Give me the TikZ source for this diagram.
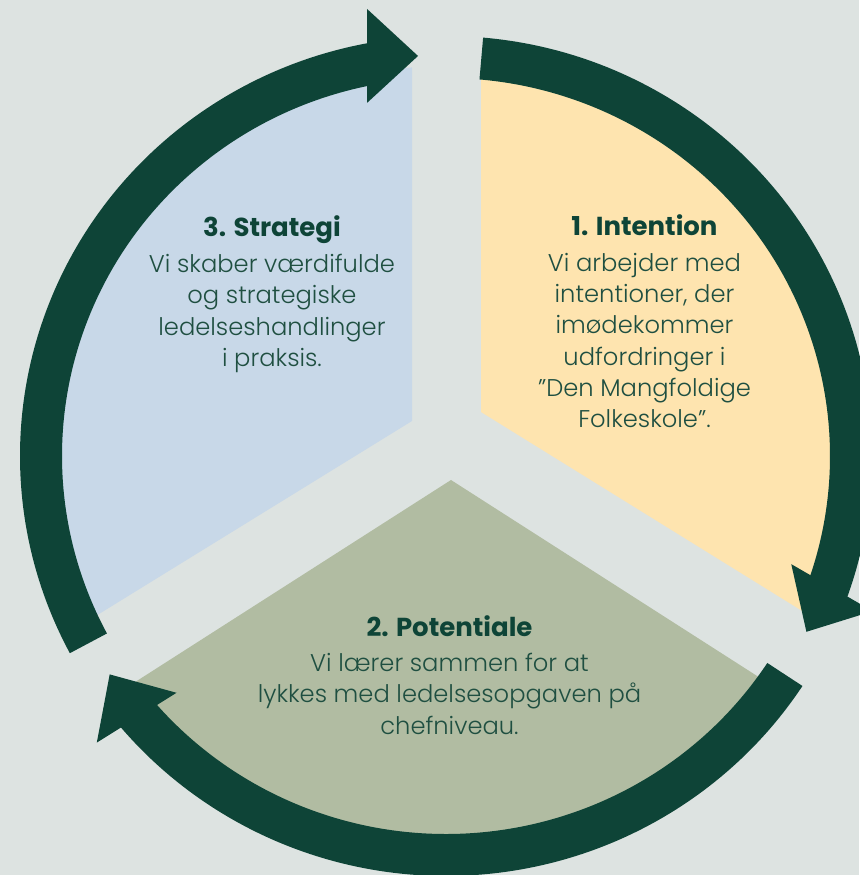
\documentclass[tikz,border=0pt]{standalone}
\usepackage{fontspec}
\setmainfont{Poppins}
\newfontfamily\lightfont{Poppins Light}
\usepackage{tikz}
\usetikzlibrary{positioning}
\definecolor{bggray}{HTML}{DDE3E1}
\definecolor{paleblue}{HTML}{C8D8E8}
\definecolor{paleyellow}{HTML}{FEE4AF}
\definecolor{sage}{HTML}{B1BCA2}
\definecolor{ringgreen}{HTML}{0E4437}
\definecolor{textgreen}{HTML}{1F4F41}
\tikzset{%
  ringarrow/.style={fill=ringgreen},
  heading/.style={font=\fontsize{26}{30}\selectfont\bfseries, text=ringgreen, inner sep=0pt},
  bodytext/.style={font=\lightfont\fontsize{24.2}{31.3}\selectfont, text=textgreen, align=center, inner sep=0pt}}

\begin{document}
\begin{tikzpicture}[x=1pt, y=1pt]
    \useasboundingbox (-446, -419) rectangle (413, 456);
    \fill [bggray] (-446, -419) rectangle (413, 456);

    % the three sectors, cut off under the ring
    \begin{scope}
      \clip (0, 0) ellipse [x radius=396, y radius=390];
      \fill [paleblue] (-34, 35) -- (-34, 600) -- (-600, 600) -- (-600, -314) -- cycle;
      \fill [paleyellow] (35, 44) -- (35, 600) -- (600, 600) -- (600, -306) -- cycle;
      \fill [sage] (5, -24) -- (600, -405) -- (600, -600) -- (-600, -600) -- (-600, -411) -- cycle;
    \end{scope}

    \foreach \tail/\tip/\axis [evaluate=\tip as \shaftend using \tip+5] in {208/94/0, 85/-26/-120, -33.2/-147/122} {
      \fill [ringarrow] ({\tail}:426 and 420) arc [start angle=\tail, end angle=\shaftend, x radius=426, y radius=420]
        -- ({\shaftend}:384 and 378) arc [start angle=\shaftend, end angle=\tail, x radius=384, y radius=378] -- cycle;
      \fill [ringarrow] ({\tip}:401) -- ++({\axis+137.3}:69.4) -- ++({\axis-90}:94) -- cycle;
    }

    \node [heading, anchor=base] (strategi) at (-174, 219) {3. Strategi};
    \node [bodytext, below=17pt of strategi.base] (strategitext) {Vi skaber værdifulde\\og strategiske\\ledelseshandlinger\\i praksis.};

    \node [heading, anchor=base] (intention) at (198.5, 220) {1. Intention};
    \node [bodytext, below=17pt of intention.base] (intentiontext) {Vi arbejder med\\intentioner, der\\imødekommer\\udfordringer i\\”Den Mangfoldige\\Folkeskole”.};

    \node [heading, anchor=base] (potentiale) at (3.5, -180) {2. Potentiale};
    \node [bodytext, below=17pt of potentiale.base] (potentialetext) {Vi lærer sammen for at\\lykkes med ledelsesopgaven på\\chefniveau.};
\end{tikzpicture}
\end{document}
